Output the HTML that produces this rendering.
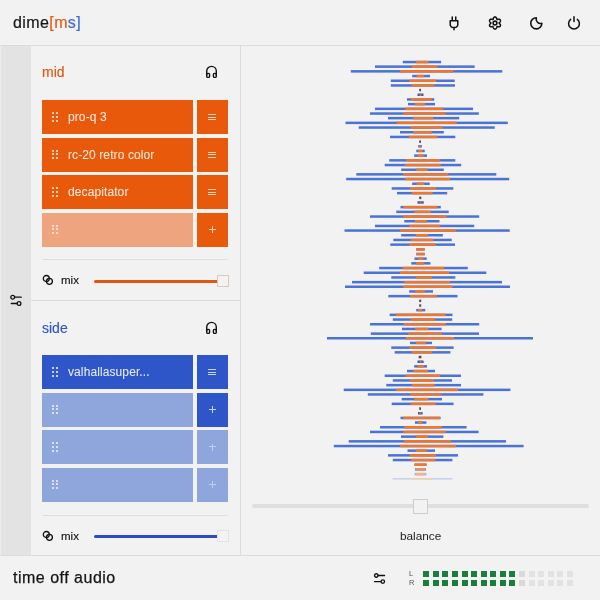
<!DOCTYPE html>
<html><head><meta charset="utf-8">
<style>
*{margin:0;padding:0;box-sizing:border-box}
html,body{width:600px;height:600px;overflow:hidden;background:#f2f2f2;font-family:"Liberation Sans",sans-serif;color:#151515}
body>div{will-change:transform}
.abs{position:absolute}
#hdr{left:0;top:0;width:600px;height:46px;background:#f2f2f2;border-bottom:1px solid #dddddd}
#logo{left:13px;top:13.5px;font-size:16px;letter-spacing:0.4px;white-space:nowrap;-webkit-text-stroke:0.2px currentColor}
#strip{left:0;top:46px;width:31px;height:509px;background:#e3e3e3;border-left:1px solid #ededed}
#lp{left:31px;top:46px;width:210px;height:509px;background:#f2f2f2;border-right:1px solid #dcdcdc}
#sep{left:31px;top:300px;width:209px;height:1px;background:#dcdcdc}
#ftr{left:0;top:555px;width:600px;height:45px;background:#f2f2f2;border-top:1px solid #dcdcdc}
.ttl{font-size:14px;white-space:nowrap;left:42px;-webkit-text-stroke:0.15px currentColor}
.tile{height:33.5px;width:151px;left:42px}
.btn{height:33.5px;width:31px;left:197px}
.o{background:#e8590c}
.ol{background:#eea47e}
.b{background:#2f56c8}
.bl{background:#8fa6dd}
.txt{font-size:12px;letter-spacing:0.1px;color:#fce9dd;white-space:nowrap;left:67.6px;-webkit-text-stroke:0.05px currentColor}
.div{left:42px;width:186px;height:1px;background:#dedede}
.mix{font-size:11.5px;white-space:nowrap;left:61px;-webkit-text-stroke:0.15px currentColor}
.trk{height:3px;border-radius:2px;left:94px;width:126px}
.hdl{left:217px;width:11.5px;height:11.5px;border:1px solid #d6cac3;background:#f5f3f2}
.sq{width:6px;height:6px}
</style></head><body>
<div id="hdr" class="abs"></div>
<div id="logo" class="abs">dime<span style="color:#e8590c">[m</span><span style="color:#3d6bd6">s]</span></div>
<!-- header icons -->
<svg class="abs" style="left:446px;top:14px" width="16" height="18" viewBox="0 0 16 18" fill="none" stroke="#111" stroke-width="1.5" stroke-linecap="round" stroke-linejoin="round">
<path d="M6.25 3v3.5M9.75 3v3.5M4.2 6.8h7.6v3.6a3.2 3.2 0 0 1-3.2 3.2h-1.2a3.2 3.2 0 0 1-3.2-3.2z M8 13.6v2.2"/>
</svg>
<svg class="abs" style="left:483px;top:11.3px" width="24" height="24" viewBox="0 0 24 24" fill="none" stroke="#111" stroke-width="1.55" stroke-linecap="round" stroke-linejoin="round">
<path d="M16.10 12.00 L16.24 12.22 L16.46 12.47 L16.70 12.74 L16.94 13.05 L17.15 13.38 L17.31 13.73 L17.42 14.08 L17.45 14.43 L17.40 14.75 L17.28 15.05 L17.09 15.30 L16.83 15.51 L16.51 15.65 L16.15 15.74 L15.77 15.77 L15.38 15.75 L15.00 15.70 L14.64 15.63 L14.31 15.56 L14.05 15.55 L13.93 15.79 L13.82 16.10 L13.71 16.45 L13.56 16.80 L13.38 17.15 L13.16 17.46 L12.91 17.73 L12.62 17.93 L12.32 18.06 L12.00 18.10 L11.68 18.06 L11.38 17.93 L11.09 17.73 L10.84 17.46 L10.62 17.15 L10.44 16.80 L10.29 16.45 L10.18 16.10 L10.07 15.79 L9.95 15.55 L9.69 15.56 L9.36 15.63 L9.00 15.70 L8.62 15.75 L8.23 15.77 L7.85 15.74 L7.49 15.65 L7.17 15.51 L6.91 15.30 L6.72 15.05 L6.60 14.75 L6.55 14.43 L6.58 14.08 L6.69 13.73 L6.85 13.38 L7.06 13.05 L7.30 12.74 L7.54 12.47 L7.76 12.22 L7.90 12.00 L7.76 11.78 L7.54 11.53 L7.30 11.26 L7.06 10.95 L6.85 10.62 L6.69 10.27 L6.58 9.92 L6.55 9.57 L6.60 9.25 L6.72 8.95 L6.91 8.70 L7.17 8.49 L7.49 8.35 L7.85 8.26 L8.23 8.23 L8.62 8.25 L9.00 8.30 L9.36 8.37 L9.69 8.44 L9.95 8.45 L10.07 8.21 L10.18 7.90 L10.29 7.55 L10.44 7.20 L10.62 6.85 L10.84 6.54 L11.09 6.27 L11.38 6.07 L11.68 5.94 L12.00 5.90 L12.32 5.94 L12.62 6.07 L12.91 6.27 L13.16 6.54 L13.38 6.85 L13.56 7.20 L13.71 7.55 L13.82 7.90 L13.93 8.21 L14.05 8.45 L14.31 8.44 L14.64 8.37 L15.00 8.30 L15.38 8.25 L15.77 8.23 L16.15 8.26 L16.51 8.35 L16.83 8.49 L17.09 8.70 L17.28 8.95 L17.40 9.25 L17.45 9.57 L17.42 9.92 L17.31 10.27 L17.15 10.62 L16.94 10.95 L16.70 11.26 L16.46 11.53 L16.24 11.78Z"/><circle cx="12" cy="12" r="1.9"/>
</svg>
<svg class="abs" style="left:528px;top:15px" width="17" height="17" viewBox="0 0 17 17" fill="none" stroke="#111" stroke-width="1.55" stroke-linecap="round" stroke-linejoin="round"><path d="M8.3 2.75A5.55 5.55 0 1 0 13.85 8.3A4.435 4.435 0 0 1 8.3 2.75Z"/></svg>
<svg class="abs" style="left:564.5px;top:14px" width="18" height="18" viewBox="0 0 24 24" fill="none" stroke="#111" stroke-width="2" stroke-linecap="round" stroke-linejoin="round">
<path d="M7.5 7.2a7.2 7.2 0 1 0 9 0M12 3.5v6.5"/>
</svg>

<div id="strip" class="abs"></div>
<div id="lp" class="abs"></div>
<div id="sep" class="abs"></div>
<!-- strip icon -->
<svg class="abs" style="left:9px;top:293px" width="15" height="14" viewBox="0 0 15 14" fill="none" stroke="#111" stroke-width="1.3" stroke-linecap="round">
<circle cx="3.7" cy="4.2" r="1.9"/><path d="M5.6 4.2h6.6"/><circle cx="10" cy="10.5" r="1.9"/><path d="M2.3 10.5h5.8"/>
</svg>

<!-- MID section -->
<div class="abs ttl" style="top:64px;color:#e0560c">mid</div>
<svg class="abs headph" style="left:204px;top:64px" width="15" height="15" viewBox="0 0 15 15" fill="none" stroke="#111" stroke-width="1.4" stroke-linecap="round" stroke-linejoin="round">
<path d="M2.7 10.8v-3.6a4.8 4.8 0 0 1 9.6 0v3.6"/><rect x="2.7" y="9.4" width="2.9" height="4" rx="1.2"/><rect x="9.4" y="9.4" width="2.9" height="4" rx="1.2"/>
</svg>
<div class="abs tile o" style="top:100px"></div><div class="abs btn o" style="top:100px"></div>
<div class="abs tile o" style="top:137.5px"></div><div class="abs btn o" style="top:137.5px"></div>
<div class="abs tile o" style="top:175px"></div><div class="abs btn o" style="top:175px"></div>
<div class="abs tile ol" style="top:212.5px"></div><div class="abs btn o" style="top:212.5px"></div>
<div class="abs txt" style="top:110px">pro-q 3</div>
<div class="abs txt" style="top:147.5px">rc-20 retro color</div>
<div class="abs txt" style="top:185px">decapitator</div>
<div class="abs" style="left:52.0px;top:112.3px;width:2.4px;height:2.4px;border-radius:0.8px;background:#fde6d8"></div><div class="abs" style="left:52.0px;top:115.9px;width:2.4px;height:2.4px;border-radius:0.8px;background:#fde6d8"></div><div class="abs" style="left:52.0px;top:119.5px;width:2.4px;height:2.4px;border-radius:0.8px;background:#fde6d8"></div><div class="abs" style="left:56.0px;top:112.3px;width:2.4px;height:2.4px;border-radius:0.8px;background:#fde6d8"></div><div class="abs" style="left:56.0px;top:115.9px;width:2.4px;height:2.4px;border-radius:0.8px;background:#fde6d8"></div><div class="abs" style="left:56.0px;top:119.5px;width:2.4px;height:2.4px;border-radius:0.8px;background:#fde6d8"></div><div class="abs" style="left:52.0px;top:149.8px;width:2.4px;height:2.4px;border-radius:0.8px;background:#fde6d8"></div><div class="abs" style="left:52.0px;top:153.4px;width:2.4px;height:2.4px;border-radius:0.8px;background:#fde6d8"></div><div class="abs" style="left:52.0px;top:157.0px;width:2.4px;height:2.4px;border-radius:0.8px;background:#fde6d8"></div><div class="abs" style="left:56.0px;top:149.8px;width:2.4px;height:2.4px;border-radius:0.8px;background:#fde6d8"></div><div class="abs" style="left:56.0px;top:153.4px;width:2.4px;height:2.4px;border-radius:0.8px;background:#fde6d8"></div><div class="abs" style="left:56.0px;top:157.0px;width:2.4px;height:2.4px;border-radius:0.8px;background:#fde6d8"></div><div class="abs" style="left:52.0px;top:187.3px;width:2.4px;height:2.4px;border-radius:0.8px;background:#fde6d8"></div><div class="abs" style="left:52.0px;top:190.9px;width:2.4px;height:2.4px;border-radius:0.8px;background:#fde6d8"></div><div class="abs" style="left:52.0px;top:194.5px;width:2.4px;height:2.4px;border-radius:0.8px;background:#fde6d8"></div><div class="abs" style="left:56.0px;top:187.3px;width:2.4px;height:2.4px;border-radius:0.8px;background:#fde6d8"></div><div class="abs" style="left:56.0px;top:190.9px;width:2.4px;height:2.4px;border-radius:0.8px;background:#fde6d8"></div><div class="abs" style="left:56.0px;top:194.5px;width:2.4px;height:2.4px;border-radius:0.8px;background:#fde6d8"></div><div class="abs" style="left:52.0px;top:224.8px;width:2.4px;height:2.4px;border-radius:0.8px;background:#fde6d8"></div><div class="abs" style="left:52.0px;top:228.4px;width:2.4px;height:2.4px;border-radius:0.8px;background:#fde6d8"></div><div class="abs" style="left:52.0px;top:232.0px;width:2.4px;height:2.4px;border-radius:0.8px;background:#fde6d8"></div><div class="abs" style="left:56.0px;top:224.8px;width:2.4px;height:2.4px;border-radius:0.8px;background:#fde6d8"></div><div class="abs" style="left:56.0px;top:228.4px;width:2.4px;height:2.4px;border-radius:0.8px;background:#fde6d8"></div><div class="abs" style="left:56.0px;top:232.0px;width:2.4px;height:2.4px;border-radius:0.8px;background:#fde6d8"></div>
<div class="abs" style="left:208px;top:114.0px;width:8px;height:1px;background:#fcd3b8"></div><div class="abs" style="left:208px;top:116.5px;width:8px;height:1px;background:#fcd3b8"></div><div class="abs" style="left:208px;top:119.0px;width:8px;height:1px;background:#fcd3b8"></div><div class="abs" style="left:208px;top:151.5px;width:8px;height:1px;background:#fcd3b8"></div><div class="abs" style="left:208px;top:154.0px;width:8px;height:1px;background:#fcd3b8"></div><div class="abs" style="left:208px;top:156.5px;width:8px;height:1px;background:#fcd3b8"></div><div class="abs" style="left:208px;top:189.0px;width:8px;height:1px;background:#fcd3b8"></div><div class="abs" style="left:208px;top:191.5px;width:8px;height:1px;background:#fcd3b8"></div><div class="abs" style="left:208px;top:194.0px;width:8px;height:1px;background:#fcd3b8"></div><div class="abs" style="left:209.0px;top:228.9px;width:6.8px;height:1px;background:#fcd3b8"></div><div class="abs" style="left:211.9px;top:226.0px;width:1px;height:6.8px;background:#fcd3b8"></div>
<div class="abs div" style="top:259px"></div>
<svg class="abs" style="left:42px;top:274px" width="12" height="12" viewBox="0 0 12 12" fill="none" stroke="#111" stroke-width="1.3"><circle cx="4.3" cy="4.5" r="3"/><circle cx="7.4" cy="7.3" r="3"/></svg>
<div class="abs mix" style="top:274px">mix</div>
<div class="abs trk" style="top:279.5px;background:#e0560c"></div>
<div class="abs hdl" style="top:275.3px"></div>

<!-- SIDE section -->
<div class="abs ttl" style="top:319.5px;color:#2d55c4">side</div>
<svg class="abs headph" style="left:204px;top:319.5px" width="15" height="15" viewBox="0 0 15 15" fill="none" stroke="#111" stroke-width="1.4" stroke-linecap="round" stroke-linejoin="round">
<path d="M2.7 10.8v-3.6a4.8 4.8 0 0 1 9.6 0v3.6"/><rect x="2.7" y="9.4" width="2.9" height="4" rx="1.2"/><rect x="9.4" y="9.4" width="2.9" height="4" rx="1.2"/>
</svg>
<div class="abs tile b" style="top:355px"></div><div class="abs btn b" style="top:355px"></div>
<div class="abs tile bl" style="top:392.5px"></div><div class="abs btn b" style="top:392.5px"></div>
<div class="abs tile bl" style="top:430px"></div><div class="abs btn bl" style="top:430px"></div>
<div class="abs tile bl" style="top:467.5px"></div><div class="abs btn bl" style="top:467.5px"></div>
<div class="abs txt" style="top:365px;color:#e6ecfa">valhallasuper...</div>
<div class="abs" style="left:52.0px;top:367.3px;width:2.4px;height:2.4px;border-radius:0.8px;background:#e6ecfb"></div><div class="abs" style="left:52.0px;top:370.9px;width:2.4px;height:2.4px;border-radius:0.8px;background:#e6ecfb"></div><div class="abs" style="left:52.0px;top:374.5px;width:2.4px;height:2.4px;border-radius:0.8px;background:#e6ecfb"></div><div class="abs" style="left:56.0px;top:367.3px;width:2.4px;height:2.4px;border-radius:0.8px;background:#e6ecfb"></div><div class="abs" style="left:56.0px;top:370.9px;width:2.4px;height:2.4px;border-radius:0.8px;background:#e6ecfb"></div><div class="abs" style="left:56.0px;top:374.5px;width:2.4px;height:2.4px;border-radius:0.8px;background:#e6ecfb"></div><div class="abs" style="left:52.0px;top:404.8px;width:2.4px;height:2.4px;border-radius:0.8px;background:#e6ecfb"></div><div class="abs" style="left:52.0px;top:408.4px;width:2.4px;height:2.4px;border-radius:0.8px;background:#e6ecfb"></div><div class="abs" style="left:52.0px;top:412.0px;width:2.4px;height:2.4px;border-radius:0.8px;background:#e6ecfb"></div><div class="abs" style="left:56.0px;top:404.8px;width:2.4px;height:2.4px;border-radius:0.8px;background:#e6ecfb"></div><div class="abs" style="left:56.0px;top:408.4px;width:2.4px;height:2.4px;border-radius:0.8px;background:#e6ecfb"></div><div class="abs" style="left:56.0px;top:412.0px;width:2.4px;height:2.4px;border-radius:0.8px;background:#e6ecfb"></div><div class="abs" style="left:52.0px;top:442.3px;width:2.4px;height:2.4px;border-radius:0.8px;background:#e6ecfb"></div><div class="abs" style="left:52.0px;top:445.9px;width:2.4px;height:2.4px;border-radius:0.8px;background:#e6ecfb"></div><div class="abs" style="left:52.0px;top:449.5px;width:2.4px;height:2.4px;border-radius:0.8px;background:#e6ecfb"></div><div class="abs" style="left:56.0px;top:442.3px;width:2.4px;height:2.4px;border-radius:0.8px;background:#e6ecfb"></div><div class="abs" style="left:56.0px;top:445.9px;width:2.4px;height:2.4px;border-radius:0.8px;background:#e6ecfb"></div><div class="abs" style="left:56.0px;top:449.5px;width:2.4px;height:2.4px;border-radius:0.8px;background:#e6ecfb"></div><div class="abs" style="left:52.0px;top:479.8px;width:2.4px;height:2.4px;border-radius:0.8px;background:#e6ecfb"></div><div class="abs" style="left:52.0px;top:483.4px;width:2.4px;height:2.4px;border-radius:0.8px;background:#e6ecfb"></div><div class="abs" style="left:52.0px;top:487.0px;width:2.4px;height:2.4px;border-radius:0.8px;background:#e6ecfb"></div><div class="abs" style="left:56.0px;top:479.8px;width:2.4px;height:2.4px;border-radius:0.8px;background:#e6ecfb"></div><div class="abs" style="left:56.0px;top:483.4px;width:2.4px;height:2.4px;border-radius:0.8px;background:#e6ecfb"></div><div class="abs" style="left:56.0px;top:487.0px;width:2.4px;height:2.4px;border-radius:0.8px;background:#e6ecfb"></div>
<div class="abs" style="left:208px;top:369.0px;width:8px;height:1px;background:#c9d4f3"></div><div class="abs" style="left:208px;top:371.5px;width:8px;height:1px;background:#c9d4f3"></div><div class="abs" style="left:208px;top:374.0px;width:8px;height:1px;background:#c9d4f3"></div><div class="abs" style="left:209.0px;top:408.9px;width:6.8px;height:1px;background:#c9d4f3"></div><div class="abs" style="left:211.9px;top:406.0px;width:1px;height:6.8px;background:#c9d4f3"></div><div class="abs" style="left:209.0px;top:446.4px;width:6.8px;height:1px;background:#c1cdef"></div><div class="abs" style="left:211.9px;top:443.5px;width:1px;height:6.8px;background:#c1cdef"></div><div class="abs" style="left:209.0px;top:483.9px;width:6.8px;height:1px;background:#c1cdef"></div><div class="abs" style="left:211.9px;top:481.0px;width:1px;height:6.8px;background:#c1cdef"></div>
<div class="abs div" style="top:514.5px"></div>
<svg class="abs" style="left:42px;top:529.5px" width="12" height="12" viewBox="0 0 12 12" fill="none" stroke="#111" stroke-width="1.3"><circle cx="4.3" cy="4.5" r="3"/><circle cx="7.4" cy="7.3" r="3"/></svg>
<div class="abs mix" style="top:529.5px">mix</div>
<div class="abs trk" style="top:534.5px;background:#2a4cc2"></div>
<div class="abs hdl" style="top:530.3px;border-color:#e2e2e2;background:#f3f3f3"></div>

<!-- right panel -->
<svg class="abs" style="left:0;top:0" width="600" height="600" viewBox="0 0 600 600"><g><rect x="402.8" y="60.8" width="38.3" height="2.5" fill="#4a73d5"/><rect x="416" y="60.8" width="12.5" height="2.5" fill="#ee7730"/></g><g><rect x="375" y="65.4" width="99.7" height="2.5" fill="#4a73d5"/><rect x="411.8" y="65.4" width="25.8" height="2.5" fill="#ee7730"/></g><g><rect x="350.8" y="70.1" width="151.5" height="2.5" fill="#4a73d5"/><rect x="400" y="70.1" width="53.2" height="2.5" fill="#ee7730"/></g><g><rect x="412.2" y="74.8" width="17.8" height="2.5" fill="#4a73d5"/><rect x="416.7" y="74.8" width="7.5" height="2.5" fill="#ee7730"/></g><g><rect x="390.8" y="79.5" width="63.9" height="2.5" fill="#4a73d5"/><rect x="409.2" y="79.5" width="27" height="2.5" fill="#ee7730"/></g><g><rect x="390.8" y="84.2" width="64.2" height="2.5" fill="#4a73d5"/><rect x="411.7" y="84.2" width="22.5" height="2.5" fill="#ee7730"/></g><rect x="419.2" y="88.8" width="1.8" height="2.5" fill="#54486a"/><rect x="417.5" y="93.5" width="6" height="2.5" fill="#4a55aa"/><rect x="419.6" y="93.5" width="1.8" height="2.5" fill="#c07a58"/><g><rect x="407" y="98.2" width="27.2" height="2.5" fill="#4a73d5"/><rect x="410.8" y="98.2" width="20.9" height="2.5" fill="#ee7730"/></g><g><rect x="408" y="102.9" width="27" height="2.5" fill="#4a73d5"/><rect x="415" y="102.9" width="10" height="2.5" fill="#ee7730"/></g><g><rect x="375" y="107.6" width="98" height="2.5" fill="#4a73d5"/><rect x="405" y="107.6" width="38.3" height="2.5" fill="#ee7730"/></g><g><rect x="370" y="112.3" width="108.8" height="2.5" fill="#4a73d5"/><rect x="403.3" y="112.3" width="42.5" height="2.5" fill="#ee7730"/></g><g><rect x="388" y="116.9" width="71.2" height="2.5" fill="#4a73d5"/><rect x="413.3" y="116.9" width="20" height="2.5" fill="#ee7730"/></g><g><rect x="345.5" y="121.6" width="162.3" height="2.5" fill="#4a73d5"/><rect x="396.7" y="121.6" width="60" height="2.5" fill="#ee7730"/></g><g><rect x="358.7" y="126.3" width="136" height="2.5" fill="#4a73d5"/><rect x="410.8" y="126.3" width="31.7" height="2.5" fill="#ee7730"/></g><g><rect x="400" y="131" width="43.8" height="2.5" fill="#4a73d5"/><rect x="413.3" y="131" width="18.4" height="2.5" fill="#ee7730"/></g><g><rect x="390" y="135.7" width="65.3" height="2.5" fill="#4a73d5"/><rect x="408.8" y="135.7" width="28.7" height="2.5" fill="#ee7730"/></g><rect x="419.2" y="140.4" width="1.8" height="2.5" fill="#54486a"/><rect x="418.3" y="145" width="3.4" height="2.5" fill="#4a55aa"/><rect x="419.1" y="145" width="1.8" height="2.5" fill="#c07a58"/><g><rect x="416.3" y="149.7" width="8.4" height="2.5" fill="#4a73d5"/><rect x="418.3" y="149.7" width="4.2" height="2.5" fill="#ee7730"/></g><g><rect x="414.2" y="154.4" width="12.8" height="2.5" fill="#4a73d5"/><rect x="417.5" y="154.4" width="6.2" height="2.5" fill="#ee7730"/></g><g><rect x="389.2" y="159.1" width="66.1" height="2.5" fill="#4a73d5"/><rect x="406.3" y="159.1" width="33.7" height="2.5" fill="#ee7730"/></g><g><rect x="384.7" y="163.8" width="76.5" height="2.5" fill="#4a73d5"/><rect x="405" y="163.8" width="35.8" height="2.5" fill="#ee7730"/></g><g><rect x="401.2" y="168.5" width="42.6" height="2.5" fill="#4a73d5"/><rect x="416.3" y="168.5" width="11.2" height="2.5" fill="#ee7730"/></g><g><rect x="356.3" y="173.1" width="140" height="2.5" fill="#4a73d5"/><rect x="403.3" y="173.1" width="45" height="2.5" fill="#ee7730"/></g><g><rect x="346.2" y="177.8" width="163" height="2.5" fill="#4a73d5"/><rect x="405" y="177.8" width="45" height="2.5" fill="#ee7730"/></g><g><rect x="412.2" y="182.5" width="17.5" height="2.5" fill="#4a73d5"/><rect x="416.7" y="182.5" width="7.5" height="2.5" fill="#ee7730"/></g><g><rect x="391.7" y="187.2" width="61.6" height="2.5" fill="#4a73d5"/><rect x="410" y="187.2" width="25.8" height="2.5" fill="#ee7730"/></g><g><rect x="397" y="191.9" width="50.2" height="2.5" fill="#4a73d5"/><rect x="411.7" y="191.9" width="20.8" height="2.5" fill="#ee7730"/></g><rect x="419.2" y="196.6" width="2.1" height="2.5" fill="#54486a"/><rect x="417.5" y="201.2" width="6.2" height="2.5" fill="#4a55aa"/><rect x="419.7" y="201.2" width="1.8" height="2.5" fill="#c07a58"/><g><rect x="400.5" y="205.9" width="40.3" height="2.5" fill="#4a73d5"/><rect x="403.3" y="205.9" width="34.2" height="2.5" fill="#ee7730"/></g><g><rect x="396.3" y="210.6" width="52.4" height="2.5" fill="#4a73d5"/><rect x="414.2" y="210.6" width="16.6" height="2.5" fill="#ee7730"/></g><g><rect x="370" y="215.3" width="109.2" height="2.5" fill="#4a73d5"/><rect x="403.3" y="215.3" width="43.4" height="2.5" fill="#ee7730"/></g><g><rect x="404.3" y="220" width="35.2" height="2.5" fill="#4a73d5"/><rect x="415" y="220" width="11.7" height="2.5" fill="#ee7730"/></g><g><rect x="375" y="224.7" width="99.2" height="2.5" fill="#4a73d5"/><rect x="409.2" y="224.7" width="31.1" height="2.5" fill="#ee7730"/></g><g><rect x="344.5" y="229.3" width="165.2" height="2.5" fill="#4a73d5"/><rect x="400" y="229.3" width="55.8" height="2.5" fill="#ee7730"/></g><g><rect x="401.2" y="234" width="41.6" height="2.5" fill="#4a73d5"/><rect x="415.8" y="234" width="12.5" height="2.5" fill="#ee7730"/></g><g><rect x="393.3" y="238.7" width="58.4" height="2.5" fill="#4a73d5"/><rect x="410.8" y="238.7" width="22.5" height="2.5" fill="#ee7730"/></g><g><rect x="390.3" y="243.4" width="64.7" height="2.5" fill="#4a73d5"/><rect x="409.2" y="243.4" width="26.6" height="2.5" fill="#ee7730"/></g><g><rect x="416.2" y="248.1" width="8.5" height="2.5" fill="#4a73d5"/><rect x="416.2" y="248.1" width="8.5" height="2.5" fill="#ee7730"/></g><g><rect x="416.3" y="252.8" width="8.4" height="2.5" fill="#4a73d5"/><rect x="416.3" y="252.8" width="8.4" height="2.5" fill="#ee7730"/></g><g><rect x="414.5" y="257.4" width="12.2" height="2.5" fill="#4a73d5"/><rect x="418.3" y="257.4" width="5" height="2.5" fill="#ee7730"/></g><g><rect x="411.3" y="262.1" width="19.2" height="2.5" fill="#4a73d5"/><rect x="416.3" y="262.1" width="7.9" height="2.5" fill="#ee7730"/></g><g><rect x="379.2" y="266.8" width="88.6" height="2.5" fill="#4a73d5"/><rect x="402.5" y="266.8" width="41.7" height="2.5" fill="#ee7730"/></g><g><rect x="363.7" y="271.5" width="122.6" height="2.5" fill="#4a73d5"/><rect x="400" y="271.5" width="49.2" height="2.5" fill="#ee7730"/></g><g><rect x="391.3" y="276.2" width="64" height="2.5" fill="#4a73d5"/><rect x="415.8" y="276.2" width="16.2" height="2.5" fill="#ee7730"/></g><g><rect x="352" y="280.9" width="150" height="2.5" fill="#4a73d5"/><rect x="404.2" y="280.9" width="45.8" height="2.5" fill="#ee7730"/></g><g><rect x="345" y="285.5" width="165" height="2.5" fill="#4a73d5"/><rect x="403.3" y="285.5" width="49.2" height="2.5" fill="#ee7730"/></g><g><rect x="409.2" y="290.2" width="23.8" height="2.5" fill="#4a73d5"/><rect x="415" y="290.2" width="10" height="2.5" fill="#ee7730"/></g><g><rect x="388.3" y="294.9" width="69.2" height="2.5" fill="#4a73d5"/><rect x="410" y="294.9" width="26.7" height="2.5" fill="#ee7730"/></g><rect x="419.2" y="299.6" width="2" height="2.5" fill="#54486a"/><rect x="419.2" y="304.3" width="2" height="2.5" fill="#54486a"/><g><rect x="416.2" y="308.9" width="9.1" height="2.5" fill="#4a73d5"/><rect x="418" y="308.9" width="4" height="2.5" fill="#ee7730"/></g><g><rect x="389.7" y="313.6" width="62.8" height="2.5" fill="#4a73d5"/><rect x="395.8" y="313.6" width="50" height="2.5" fill="#ee7730"/></g><g><rect x="392.8" y="318.3" width="59.4" height="2.5" fill="#4a73d5"/><rect x="410.8" y="318.3" width="24.2" height="2.5" fill="#ee7730"/></g><g><rect x="370" y="323" width="109.2" height="2.5" fill="#4a73d5"/><rect x="403.8" y="323" width="42" height="2.5" fill="#ee7730"/></g><g><rect x="402" y="327.7" width="39.6" height="2.5" fill="#4a73d5"/><rect x="415" y="327.7" width="13.4" height="2.5" fill="#ee7730"/></g><g><rect x="370.8" y="332.4" width="108.2" height="2.5" fill="#4a73d5"/><rect x="408.3" y="332.4" width="33.3" height="2.5" fill="#ee7730"/></g><g><rect x="327" y="337" width="206" height="2.5" fill="#4a73d5"/><rect x="405.8" y="337" width="48.2" height="2.5" fill="#ee7730"/></g><g><rect x="410" y="341.7" width="22" height="2.5" fill="#4a73d5"/><rect x="415.8" y="341.7" width="10.2" height="2.5" fill="#ee7730"/></g><g><rect x="391.3" y="346.4" width="62.3" height="2.5" fill="#4a73d5"/><rect x="409.2" y="346.4" width="26.8" height="2.5" fill="#ee7730"/></g><g><rect x="394.7" y="351.1" width="55.7" height="2.5" fill="#4a73d5"/><rect x="411.7" y="351.1" width="20.3" height="2.5" fill="#ee7730"/></g><rect x="418.7" y="355.8" width="2.7" height="2.5" fill="#54486a"/><rect x="417.5" y="360.5" width="6.1" height="2.5" fill="#4a55aa"/><rect x="419.7" y="360.5" width="1.8" height="2.5" fill="#c07a58"/><g><rect x="414.2" y="365.1" width="12.8" height="2.5" fill="#4a73d5"/><rect x="417.5" y="365.1" width="6.5" height="2.5" fill="#ee7730"/></g><g><rect x="407" y="369.8" width="28" height="2.5" fill="#4a73d5"/><rect x="413.3" y="369.8" width="14.7" height="2.5" fill="#ee7730"/></g><g><rect x="384.7" y="374.5" width="76.3" height="2.5" fill="#4a73d5"/><rect x="405.8" y="374.5" width="34.2" height="2.5" fill="#ee7730"/></g><g><rect x="392.8" y="379.2" width="59.2" height="2.5" fill="#4a73d5"/><rect x="410" y="379.2" width="24" height="2.5" fill="#ee7730"/></g><g><rect x="386.3" y="383.9" width="74.7" height="2.5" fill="#4a73d5"/><rect x="411.7" y="383.9" width="22.7" height="2.5" fill="#ee7730"/></g><g><rect x="343.7" y="388.6" width="166.7" height="2.5" fill="#4a73d5"/><rect x="396.3" y="388.6" width="61.7" height="2.5" fill="#ee7730"/></g><g><rect x="367.8" y="393.2" width="115.6" height="2.5" fill="#4a73d5"/><rect x="410" y="393.2" width="31" height="2.5" fill="#ee7730"/></g><g><rect x="401.7" y="397.9" width="40.3" height="2.5" fill="#4a73d5"/><rect x="414.2" y="397.9" width="14.2" height="2.5" fill="#ee7730"/></g><g><rect x="391.7" y="402.6" width="61.9" height="2.5" fill="#4a73d5"/><rect x="410.8" y="402.6" width="24.8" height="2.5" fill="#ee7730"/></g><rect x="419.2" y="407.3" width="1.8" height="2.5" fill="#54486a"/><rect x="418" y="412" width="4.6" height="2.5" fill="#4a55aa"/><rect x="419.4" y="412" width="1.8" height="2.5" fill="#c07a58"/><g><rect x="400.5" y="416.7" width="40.1" height="2.5" fill="#4a73d5"/><rect x="403.3" y="416.7" width="36.7" height="2.5" fill="#ee7730"/></g><g><rect x="415" y="421.3" width="11.4" height="2.5" fill="#4a73d5"/><rect x="418.3" y="421.3" width="3.7" height="2.5" fill="#ee7730"/></g><g><rect x="380" y="426" width="86.6" height="2.5" fill="#4a73d5"/><rect x="404.2" y="426" width="37.8" height="2.5" fill="#ee7730"/></g><g><rect x="370" y="430.7" width="108.6" height="2.5" fill="#4a73d5"/><rect x="403.3" y="430.7" width="42.3" height="2.5" fill="#ee7730"/></g><g><rect x="401" y="435.4" width="42.4" height="2.5" fill="#4a73d5"/><rect x="416" y="435.4" width="12.2" height="2.5" fill="#ee7730"/></g><g><rect x="348.7" y="440.1" width="157.3" height="2.5" fill="#4a73d5"/><rect x="403.8" y="440.1" width="47.2" height="2.5" fill="#ee7730"/></g><g><rect x="333.8" y="444.8" width="189.8" height="2.5" fill="#4a73d5"/><rect x="400" y="444.8" width="56" height="2.5" fill="#ee7730"/></g><g><rect x="407.5" y="449.4" width="27.5" height="2.5" fill="#4a73d5"/><rect x="415.8" y="449.4" width="11.4" height="2.5" fill="#ee7730"/></g><g><rect x="388" y="454.1" width="70" height="2.5" fill="#4a73d5"/><rect x="409.6" y="454.1" width="26.4" height="2.5" fill="#ee7730"/></g><g><rect x="392.8" y="458.8" width="59.6" height="2.5" fill="#4a73d5"/><rect x="410.9" y="458.8" width="24.4" height="2.5" fill="#ee7730"/></g><g><rect x="414.5" y="463.5" width="12" height="2.5" fill="#4a73d5"/><rect x="414.5" y="463.5" width="12" height="2.5" fill="#ee7730"/></g><g opacity=".8"><rect x="415" y="468.2" width="11" height="2.5" fill="#4a73d5"/><rect x="415.6" y="468.2" width="9.8" height="2.5" fill="#ee7730"/></g><g opacity=".5"><rect x="414.7" y="472.9" width="11.6" height="2.5" fill="#4a73d5"/><rect x="416" y="472.9" width="9" height="2.5" fill="#ee7730"/></g><rect x="392.5" y="478" width="60" height="1.6" fill="#c9d3ef"/><rect x="410.8" y="478" width="21.2" height="1.6" fill="#f3cfae"/></svg>
<div class="abs" style="left:252px;top:504.2px;width:337px;height:3.6px;border-radius:2px;background:#dfdfdf"></div>
<div class="abs" style="left:412.5px;top:498.5px;width:15px;height:15px;border:1.3px solid #cdcdcd;background:#f2f2f2"></div>
<div class="abs" style="left:400px;top:529px;font-size:11.8px;color:#222;white-space:nowrap">balance</div>

<div id="ftr" class="abs"></div>
<div class="abs" style="left:13px;top:568.5px;font-size:16px;letter-spacing:0.5px;white-space:nowrap;-webkit-text-stroke:0.25px #151515">time off audio</div>
<svg class="abs" style="left:371.7px;top:570.8px" width="15" height="15" viewBox="0 0 15 15" fill="none" stroke="#111" stroke-width="1.3" stroke-linecap="round">
<circle cx="4.3" cy="4.5" r="1.75"/><path d="M6.05 4.5h6.5"/><circle cx="10.8" cy="10.6" r="1.75"/><path d="M2.5 10.6h6.55"/>
</svg>
<div class="abs" style="left:409px;top:568.5px;font-size:7.5px;color:#555;line-height:9.3px">L<br>R</div>
<div class="abs sq" style="left:423.3px;top:570.5px;background:#1a7d3c"></div><div class="abs sq" style="left:432.9px;top:570.5px;background:#1a7d3c"></div><div class="abs sq" style="left:442.4px;top:570.5px;background:#1a7d3c"></div><div class="abs sq" style="left:452.0px;top:570.5px;background:#1a7d3c"></div><div class="abs sq" style="left:461.5px;top:570.5px;background:#1a7d3c"></div><div class="abs sq" style="left:471.1px;top:570.5px;background:#1a7d3c"></div><div class="abs sq" style="left:480.7px;top:570.5px;background:#1a7d3c"></div><div class="abs sq" style="left:490.2px;top:570.5px;background:#1a7d3c"></div><div class="abs sq" style="left:499.8px;top:570.5px;background:#1a7d3c"></div><div class="abs sq" style="left:509.3px;top:570.5px;background:#1a7d3c"></div><div class="abs sq" style="left:518.9px;top:570.5px;background:#d9d9d9"></div><div class="abs sq" style="left:528.5px;top:570.5px;background:#e2e2e2"></div><div class="abs sq" style="left:538.0px;top:570.5px;background:#e2e2e2"></div><div class="abs sq" style="left:547.6px;top:570.5px;background:#e2e2e2"></div><div class="abs sq" style="left:557.1px;top:570.5px;background:#e2e2e2"></div><div class="abs sq" style="left:566.7px;top:570.5px;background:#e2e2e2"></div><div class="abs sq" style="left:423.3px;top:580px;background:#1a7d3c"></div><div class="abs sq" style="left:432.9px;top:580px;background:#1a7d3c"></div><div class="abs sq" style="left:442.4px;top:580px;background:#1a7d3c"></div><div class="abs sq" style="left:452.0px;top:580px;background:#1a7d3c"></div><div class="abs sq" style="left:461.5px;top:580px;background:#1a7d3c"></div><div class="abs sq" style="left:471.1px;top:580px;background:#1a7d3c"></div><div class="abs sq" style="left:480.7px;top:580px;background:#1a7d3c"></div><div class="abs sq" style="left:490.2px;top:580px;background:#1a7d3c"></div><div class="abs sq" style="left:499.8px;top:580px;background:#1a7d3c"></div><div class="abs sq" style="left:509.3px;top:580px;background:#1a7d3c"></div><div class="abs sq" style="left:518.9px;top:580px;background:#d9d9d9"></div><div class="abs sq" style="left:528.5px;top:580px;background:#e2e2e2"></div><div class="abs sq" style="left:538.0px;top:580px;background:#e2e2e2"></div><div class="abs sq" style="left:547.6px;top:580px;background:#e2e2e2"></div><div class="abs sq" style="left:557.1px;top:580px;background:#e2e2e2"></div><div class="abs sq" style="left:566.7px;top:580px;background:#e2e2e2"></div>
</body></html>
